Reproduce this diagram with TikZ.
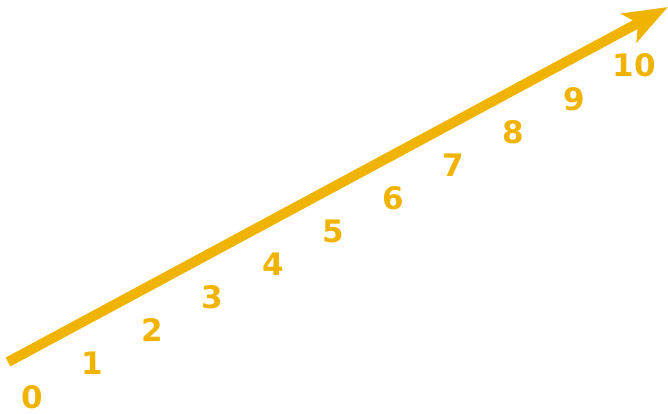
\documentclass[tikz,border=0pt]{standalone}
\usepackage{fontspec}
\setmainfont{DejaVu Sans}
\usepackage{tikz}
\usetikzlibrary{arrows.meta, positioning, calc}
\usepackage{xcolor}
\definecolor{axisyellow}{RGB}{240,180,0}
\tikzstyle{tick} = [text=axisyellow, font=\fontsize{31}{31}\selectfont\bfseries, inner sep=0pt, anchor=base]
\tikzstyle{axisarrow} = [-{Stealth[length=44pt, width=32pt, inset=10pt]}, line width=10pt, draw=axisyellow]

\begin{document}
\begin{tikzpicture}[x=1pt, y=-1pt]
  \useasboundingbox (0,0) rectangle (668,414);
  \coordinate (origin) at (8,362);
  \coordinate (tip) at (668,7);

  % numbers along the axis
  \foreach \i in {0,...,10} {
    \node[tick] (n\i) at ({32+60.2*\i},{408-33.1*\i}) {\i};
  }

  \draw[axisarrow] (origin) -- (tip);
\end{tikzpicture}
\end{document}
